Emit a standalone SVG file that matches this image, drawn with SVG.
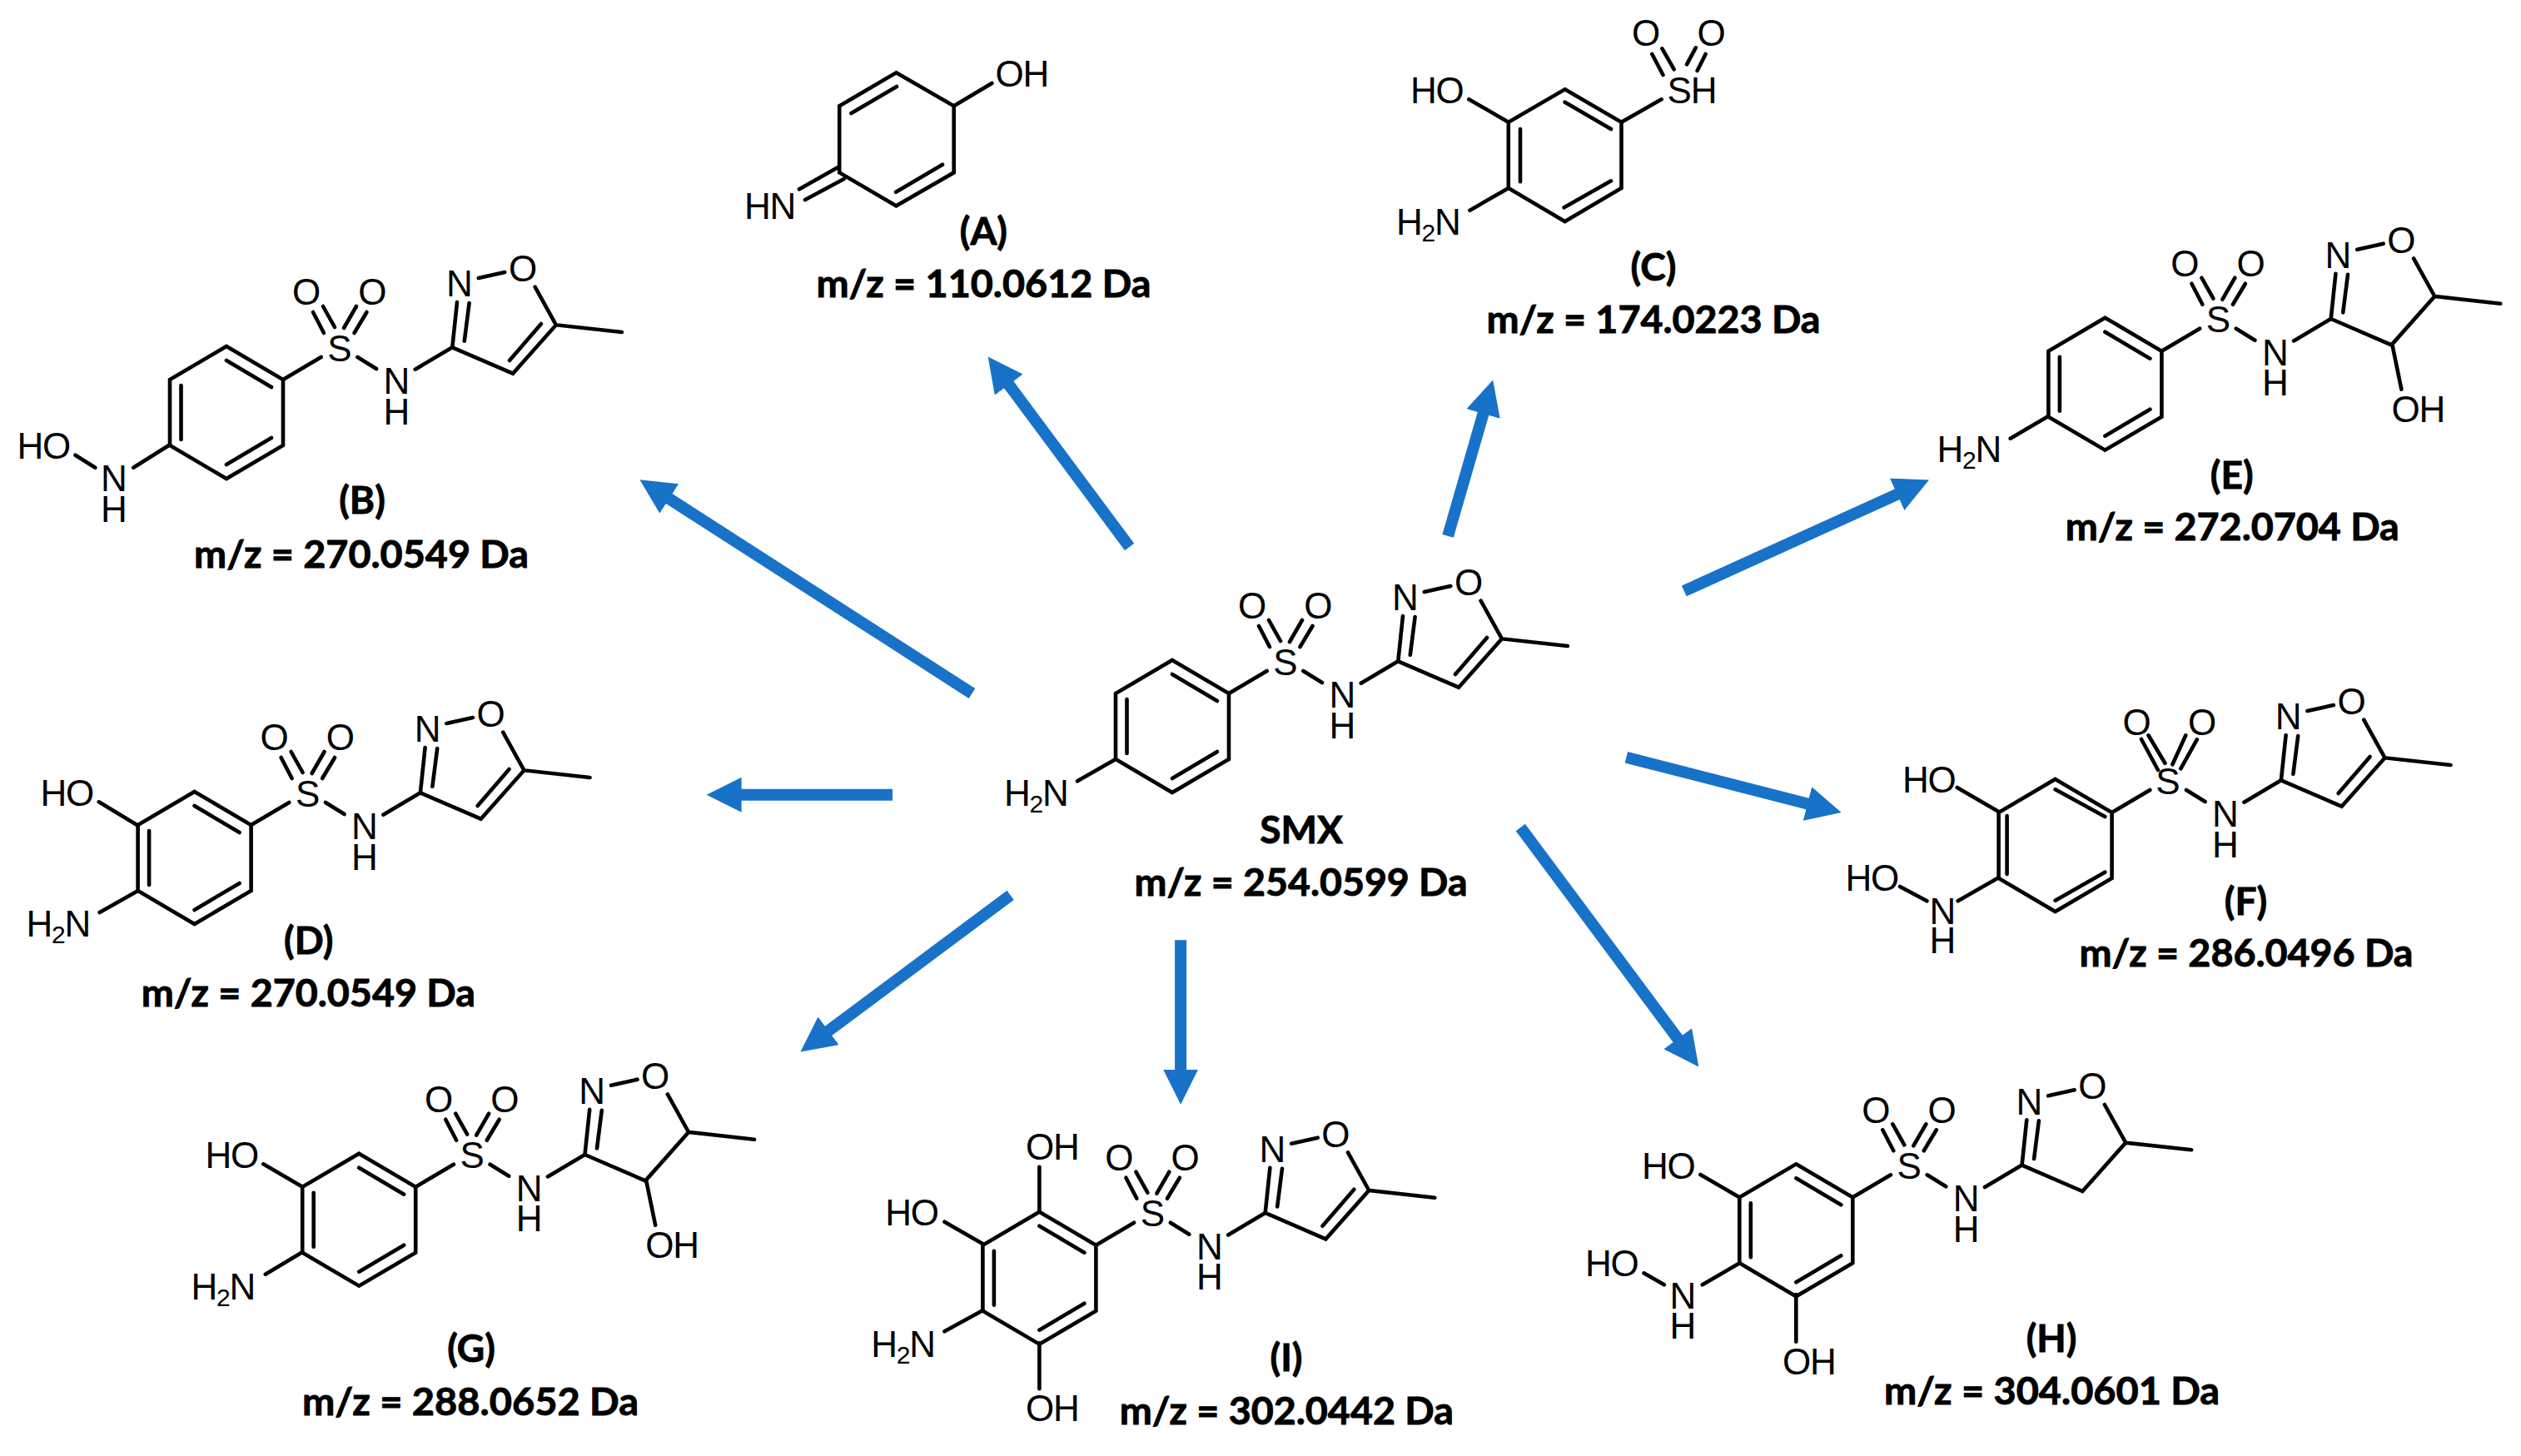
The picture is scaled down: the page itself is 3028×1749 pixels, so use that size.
<svg xmlns="http://www.w3.org/2000/svg" xmlns:xlink="http://www.w3.org/1999/xlink" width="3028" height="1749" viewBox="0 0 3028 1749">
<style>
.b{fill:none;stroke:#000;stroke-width:4.6;stroke-linecap:round;stroke-linejoin:miter}
.a{font-family:"Liberation Sans",Arial,sans-serif;font-size:44px;fill:#000;letter-spacing:-1.2px}
.c{text-anchor:middle;letter-spacing:0}
.s{font-size:30px}
.l{font-family:Lato,"Open Sans",sans-serif;font-weight:700;font-size:46px;fill:#000;stroke:#000;stroke-width:.9px;text-anchor:middle}
.arrow{fill:none;stroke:#1872c8;stroke-width:14;marker-end:url(#head)}
</style>
<defs>
<marker id="head" markerUnits="userSpaceOnUse" markerWidth="44" markerHeight="42" refX="1" refY="21" orient="auto"><path d="M0,0 L42,21 L0,42 Z" fill="#1872c8"/></marker>
<path id="hex" class="b" d="M0,0 L68,40 V119 L0,159 L-68,119 V40 Z"/>
<path id="inner" class="b" d="M0,17 L54,49 M-54.5,47 V112 M54,110 L0,142"/>
<path id="so2" class="b" d="M104,-41 L117,-16 M116,-48 L130,-23 M156,-48 L141,-22 M168.5,-41 L153.5,-16"/>
<path id="links" class="b" d="M68,40 L113.7,13 M157.4,13 L180,27 M226.7,27.7 L271.3,1.3"/>
<path id="iso" class="b" d="M271.3,1.3 L344,32.7 L395.9,-25.7 L474.9,-17 M395.9,-25.7 L370.6,-71.3 M334.3,-89 L302.8,-82 M271.3,1.3 L277,-53 M285.8,-6.3 L291.6,-52"/>
<path id="ene" class="b" d="M340,17 L378,-27"/>
<path id="oh4" class="b" d="M344.8,31.6 L356,86"/>
</defs>

<g id="connectors">
<path class="arrow" d="M1356.6,657 L1211.1,461.3"/>
<path class="arrow" d="M1167.5,833 L802.9,598.5"/>
<path class="arrow" d="M1739.1,643.9 L1781.8,496"/>
<path class="arrow" d="M1072,954.8 L889.6,954.8"/>
<path class="arrow" d="M2022.8,709.9 L2279.6,593.4"/>
<path class="arrow" d="M1953.4,909.7 L2171.9,965.8"/>
<path class="arrow" d="M1213.6,1075.4 L994.3,1238.9"/>
<path class="arrow" d="M1826.3,994 L2015.8,1248.5"/>
<path class="arrow" d="M1418.1,1129.3 L1418.1,1285.7"/>
</g>

<g id="node-smx">
<g transform="translate(1408,793)">
<use href="#hex"/><use href="#inner"/><use href="#so2"/><use href="#links"/><use href="#iso"/><use href="#ene"/>
<text class="a c" x="136" y="17.7">S</text><text class="a c" x="96" y="-49.7">O</text><text class="a c" x="175.3" y="-49.7">O</text>
<text class="a c" x="204.4" y="57">N</text><text class="a c" x="204.4" y="93.7">H</text>
<text class="a c" x="280" y="-59.7">N</text><text class="a c" x="356" y="-78">O</text>
</g>
<path class="b" d="M1294,938.3 L1340,912"/>
<text class="a" x="1206" y="968">H<tspan class="s" dy="8">2</tspan><tspan dy="-8">N</tspan></text>
<text class="l" x="1563" y="1013">SMX</text>
<text class="l" x="1562.5" y="1075.5" textLength="400" lengthAdjust="spacingAndGlyphs">m/z = 254.0599 Da</text>
</g>

<g id="node-a">
<path class="b" d="M1076.4,87.3 L1145.7,127.3 V207.3 L1076.4,247.3 L1008.2,207.3 V127.3 Z M1022.5,136 L1077,104 M1076,230.7 L1132,197.7 M1145.7,127.3 L1191.4,100 M960,227.3 L1008.2,200 M967,240 L1013.6,215"/>
<text class="a" x="1195.5" y="104">OH</text>
<text class="a" x="894" y="263.3">HN</text>
<text class="l" x="1181.4" y="294">(A)</text>
<text class="l" x="1181.4" y="357" textLength="402" lengthAdjust="spacingAndGlyphs">m/z = 110.0612 Da</text>
</g>

<g id="node-b">
<g transform="translate(272,416)">
<use href="#hex"/><use href="#inner"/><use href="#so2"/><use href="#links"/><use href="#iso"/><use href="#ene"/>
<text class="a c" x="136" y="17.7">S</text><text class="a c" x="96" y="-49.7">O</text><text class="a c" x="175.3" y="-49.7">O</text>
<text class="a c" x="204.4" y="57">N</text><text class="a c" x="204.4" y="93.7">H</text>
<text class="a c" x="280" y="-59.7">N</text><text class="a c" x="356" y="-78">O</text>
</g>
<path class="b" d="M90.5,546.7 L114.4,561.7 M160.2,561.7 L204,534.3"/>
<text class="a" x="20.5" y="550.7">HO</text>
<text class="a c" x="136.8" y="590">N</text><text class="a c" x="136.8" y="626.7">H</text>
<text class="l" x="435" y="617">(B)</text>
<text class="l" x="434" y="682" textLength="402" lengthAdjust="spacingAndGlyphs">m/z = 270.0549 Da</text>
</g>

<g id="node-c">
<path class="b" d="M1879.6,107.3 L1947.5,146.7 V226 L1879.6,266 L1811.8,226 V146.7 Z M1879.6,122.7 L1935,155 M1826,155 V218.3 M1935,217.3 L1878.6,249.3 M1764.3,119.3 L1811.8,146.7 M1765.4,252.7 L1811.8,226 M1995.7,119.3 L1947.5,146.7 M1984.3,65 L1997.5,90 M1996.4,58.3 L2010.7,83.3 M2036.8,57.3 L2026,77.3 M2048.6,65 L2038.6,85"/>
<text class="a" x="1694" y="124">HO</text>
<text class="a" x="1677" y="281.7">H<tspan class="s" dy="8">2</tspan><tspan dy="-8">N</tspan></text>
<text class="a" x="2002.5" y="124">SH</text>
<text class="a c" x="1977" y="55">O</text><text class="a c" x="2055.7" y="55">O</text>
<text class="l" x="1986" y="337">(C)</text>
<text class="l" x="1986" y="399.5" textLength="401" lengthAdjust="spacingAndGlyphs">m/z = 174.0223 Da</text>
</g>

<g id="node-d">
<g transform="translate(233.6,951)">
<use href="#hex"/><use href="#inner"/><use href="#so2"/><use href="#links"/><use href="#iso"/><use href="#ene"/>
<text class="a c" x="136" y="17.7">S</text><text class="a c" x="96" y="-49.7">O</text><text class="a c" x="175.3" y="-49.7">O</text>
<text class="a c" x="204.4" y="57">N</text><text class="a c" x="204.4" y="93.7">H</text>
<text class="a c" x="280" y="-59.7">N</text><text class="a c" x="356" y="-78">O</text>
</g>
<path class="b" d="M118.8,963.3 L165.8,991.7 M119.7,1096 L165.8,1070"/>
<text class="a" x="48.4" y="967.7">HO</text>
<text class="a" x="31.4" y="1125">H<tspan class="s" dy="8">2</tspan><tspan dy="-8">N</tspan></text>
<text class="l" x="370.8" y="1146">(D)</text>
<text class="l" x="370.3" y="1208.5" textLength="401" lengthAdjust="spacingAndGlyphs">m/z = 270.0549 Da</text>
</g>

<g id="node-e">
<g transform="translate(2528.4,381.7)">
<use href="#hex"/><use href="#inner"/><use href="#so2"/><use href="#links"/><use href="#iso"/><use href="#oh4"/>
<text class="a c" x="136" y="17.7">S</text><text class="a c" x="96" y="-49.7">O</text><text class="a c" x="175.3" y="-49.7">O</text>
<text class="a c" x="204.4" y="57">N</text><text class="a c" x="204.4" y="93.7">H</text>
<text class="a c" x="280" y="-59.7">N</text><text class="a c" x="356" y="-78">O</text>
<text class="a" x="344" y="125.5">OH</text>
</g>
<path class="b" d="M2414.7,526.7 L2460.2,500"/>
<text class="a" x="2326.5" y="555">H<tspan class="s" dy="8">2</tspan><tspan dy="-8">N</tspan></text>
<text class="l" x="2680.7" y="587">(E)</text>
<text class="l" x="2681.2" y="649" textLength="401" lengthAdjust="spacingAndGlyphs">m/z = 272.0704 Da</text>
</g>

<g id="node-f">
<g transform="translate(2468.6,936)">
<use href="#hex"/><use href="#links"/><use href="#iso"/><use href="#ene"/>
<path class="b" d="M0,12.3 L59.7,45 M-58,44 V114 M59.7,111.7 L0,145.7 M103.4,-48 L123.4,-11 M111.9,-52.7 L131.8,-19.3 M156.7,-52.7 L140.8,-17.7 M170.2,-47.7 L150.7,-12.7"/>
<text class="a c" x="135.4" y="17.7">S</text><text class="a c" x="98" y="-53">O</text><text class="a c" x="176.6" y="-53">O</text>
<text class="a c" x="204.4" y="57">N</text><text class="a c" x="204.4" y="93.7">H</text>
<text class="a c" x="280" y="-59.7">N</text><text class="a c" x="356" y="-78">O</text>
</g>
<path class="b" d="M2350.7,946 L2400.5,975 M2282,1065 L2314.4,1082.3 M2351.7,1082.3 L2400.5,1054.3"/>
<text class="a" x="2285" y="951.7">HO</text>
<text class="a" x="2216.4" y="1070">HO</text>
<text class="a c" x="2333.3" y="1110">N</text><text class="a c" x="2333.3" y="1145">H</text>
<text class="l" x="2697.5" y="1098.5">(F)</text>
<text class="l" x="2698" y="1160.5" textLength="401" lengthAdjust="spacingAndGlyphs">m/z = 286.0496 Da</text>
</g>

<g id="node-g">
<g transform="translate(431.2,1385.7)">
<use href="#hex"/><use href="#inner"/><use href="#so2"/><use href="#links"/><use href="#iso"/><use href="#oh4"/>
<text class="a c" x="136" y="17.7">S</text><text class="a c" x="96" y="-49.7">O</text><text class="a c" x="175.3" y="-49.7">O</text>
<text class="a c" x="204.4" y="57">N</text><text class="a c" x="204.4" y="93.7">H</text>
<text class="a c" x="280" y="-59.7">N</text><text class="a c" x="356" y="-78">O</text>
<text class="a" x="344" y="125.5">OH</text>
</g>
<path class="b" d="M316.3,1398.3 L363.4,1425.7 M318.8,1530.7 L363.4,1504"/>
<text class="a" x="246.5" y="1403.3">HO</text>
<text class="a" x="229.5" y="1560.7">H<tspan class="s" dy="8">2</tspan><tspan dy="-8">N</tspan></text>
<text class="l" x="566" y="1636">(G)</text>
<text class="l" x="565" y="1699.5" textLength="404" lengthAdjust="spacingAndGlyphs">m/z = 288.0652 Da</text>
</g>

<g id="node-h">
<g transform="translate(2157.3,1398.3)">
<use href="#hex"/><use href="#inner"/><use href="#so2"/><use href="#links"/><use href="#iso"/>
<text class="a c" x="136" y="17.7">S</text><text class="a c" x="96" y="-49.7">O</text><text class="a c" x="175.3" y="-49.7">O</text>
<text class="a c" x="204.4" y="57">N</text><text class="a c" x="204.4" y="93.7">H</text>
<text class="a c" x="280" y="-59.7">N</text><text class="a c" x="356" y="-78">O</text>
</g>
<path class="b" d="M2042.4,1411 L2088.4,1437.7 M1974.5,1529.3 L1998.8,1543.3 M2044.8,1543.3 L2089.4,1517.3 M2157.3,1555 V1611.7"/>
<text class="a" x="1972" y="1416">HO</text>
<text class="a" x="1904" y="1533.3">HO</text>
<text class="a c" x="2021.5" y="1572.3">N</text><text class="a c" x="2021.5" y="1608.3">H</text>
<text class="a" x="2141" y="1651">OH</text>
<text class="l" x="2464" y="1623.5">(H)</text>
<text class="l" x="2464.5" y="1686.5" textLength="403" lengthAdjust="spacingAndGlyphs">m/z = 304.0601 Da</text>
</g>

<g id="node-i">
<g transform="translate(1248.4,1455.7)">
<use href="#hex"/><use href="#inner"/><use href="#so2"/><use href="#links"/><use href="#iso"/><use href="#ene"/>
<text class="a c" x="136" y="17.7">S</text><text class="a c" x="96" y="-49.7">O</text><text class="a c" x="175.3" y="-49.7">O</text>
<text class="a c" x="204.4" y="57">N</text><text class="a c" x="204.4" y="93.7">H</text>
<text class="a c" x="280" y="-59.7">N</text><text class="a c" x="356" y="-78">O</text>
</g>
<path class="b" d="M1248.4,1401.7 V1455 M1134.5,1467.7 L1180.6,1494.3 M1134.5,1599.3 L1180.6,1574 M1248.4,1613.3 V1668.3"/>
<text class="a" x="1232" y="1393.3">OH</text>
<text class="a" x="1063.2" y="1471.7">HO</text>
<text class="a" x="1046.2" y="1630">H<tspan class="s" dy="8">2</tspan><tspan dy="-8">N</tspan></text>
<text class="a" x="1232" y="1706.7">OH</text>
<text class="l" x="1545" y="1647">(I)</text>
<text class="l" x="1545.3" y="1710.5" textLength="401" lengthAdjust="spacingAndGlyphs">m/z = 302.0442 Da</text>
</g>
</svg>
